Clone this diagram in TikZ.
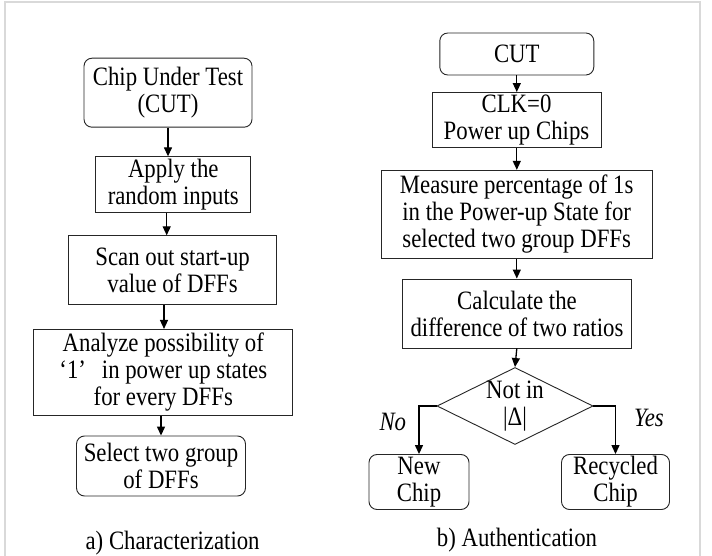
\documentclass[tikz,border=0pt]{standalone}
\usepackage{fontspec}
\setmainfont[FakeStretch=0.86]{Liberation Serif}
\usetikzlibrary{arrows.meta,shapes.geometric}
\begin{document}
\begin{tikzpicture}[x=1pt,y=-1pt,
  every node/.style={font=\fontsize{26.5}{27}\selectfont, align=center, inner sep=0pt},
  sbox/.style={draw=black!85, line width=0.9pt},
  rbox/.style={draw=black!85, line width=0.9pt, rounded corners=8pt},
  arr/.style={draw=black, line width=1.3pt, -{Triangle[length=9pt,width=8pt]}},
  lbl/.style={font=\fontsize{26.5}{27}\selectfont\itshape}]
\useasboundingbox (0,0) rectangle (712,556);
\fill[white] (0,0) rectangle (712,556);
\draw[black!15, line width=1.6pt] (4.7,560) -- (4.7,2.3) -- (700,2.3) -- (700,560);

% left column
\node[rbox, minimum width=168pt, minimum height=69pt] (c1) at (168,92.7) {Chip Under Test\\(CUT)};
\node[sbox, minimum width=155pt, minimum height=56pt] (a1) at (173.3,184.8) {Apply the\\random inputs};
\node[sbox, minimum width=208pt, minimum height=69pt] (s1) at (172.6,270.3) {Scan out start-up\\value of DFFs};
\node[sbox, minimum width=259pt, minimum height=86pt] (an) at (163.3,372.4) {Analyze possibility of\\‘1’\hspace{0.6em}in power up states\\for every DFFs};
\node[rbox, minimum width=169pt, minimum height=60pt] (se) at (161,466) {Select two group\\of DFFs};
\node (capa) at (172.6,543) {a) Characterization};

\draw[arr] (c1.south) -- (c1.south |- a1.north);
\draw[arr] ([xshift=-6.6pt]a1.south) -- ([xshift=-6.6pt]a1.south |- s1.north);
\draw[arr] ([xshift=-8.6pt]s1.south) -- ([xshift=-8.6pt]s1.south |- an.north);
\draw[arr] (se.north |- an.south) -- (se.north);

% right column
\node[rbox, minimum width=154pt, minimum height=42pt] (c2) at (516.8,54) {CUT};
\node[sbox, minimum width=169pt, minimum height=55pt] (clk) at (516.5,120) {CLK=0\\Power up Chips};
\node[sbox, minimum width=271pt, minimum height=88pt] (me) at (516.7,214.3) {Measure percentage of 1s\\in the Power-up State for\\selected two group DFFs};
\node[sbox, minimum width=229pt, minimum height=69pt] (ca) at (517,313.5) {Calculate the\\difference of two ratios};
\node[diamond, draw=black!85, line width=0.9pt, minimum width=156pt, minimum height=77pt] (d) at (515,406) {};
\node (dt) at (d.center) {Not in\\|Δ|};
\node[rbox, minimum width=100pt, minimum height=55pt] (nw) at (419,482) {New\\Chip};
\node[rbox, minimum width=108pt, minimum height=55pt] (rc) at (615.5,482) {Recycled\\Chip};
\node[lbl] (no) at (392.8,421.6) {No};
\node[lbl] (yes) at (649,418) {Yes};
\node (capb) at (517,540.5) {b) Authentication};

\draw[arr] (c2.south) -- (c2.south |- clk.north);
\draw[arr] (c2.south |- clk.south) -- (c2.south |- me.north);
\draw[arr] (c2.south |- me.south) -- (c2.south |- ca.north);
\draw[arr] (c2.south |- ca.south) -- (d.north);
\draw[arr] (d.west) -| (nw.north);
\draw[arr] (d.east) -| (rc.north);
\end{tikzpicture}
\end{document}
